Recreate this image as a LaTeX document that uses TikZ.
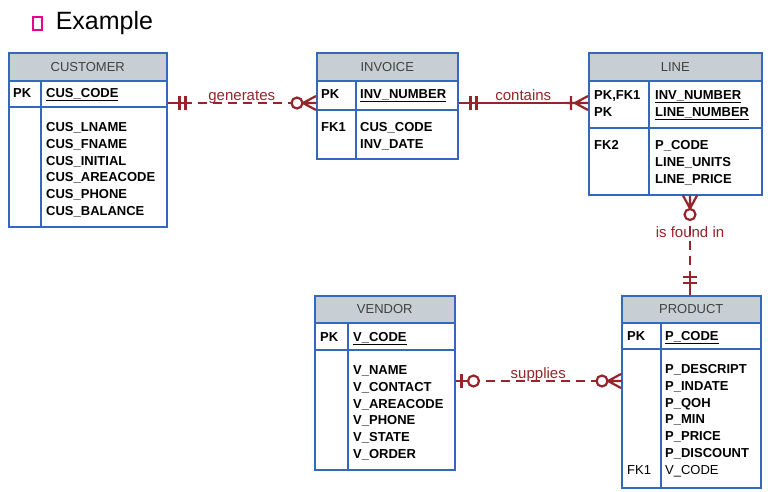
\documentclass[tikz,border=0pt]{standalone}
\usepackage{fontspec}
\setmainfont{Liberation Sans}
\usetikzlibrary{positioning}
\definecolor{entblue}{RGB}{52,104,190}
\definecolor{headgray}{RGB}{200,207,212}
\definecolor{relred}{RGB}{150,36,42}
\tikzset{
  entbox/.style={draw=entblue,line width=1.5pt,inner sep=0pt,anchor=north west},
  enthead/.style={entbox,fill=headgray,text=black!75,font=\fontsize{13}{16}\selectfont},
  entline/.style={draw=entblue,line width=1.5pt},
  fld/.style={anchor=north west,inner sep=0pt,align=left,font=\bfseries\fontsize{13}{16.8}\selectfont},
  rel/.style={draw=relred,line width=2.2pt},
  reldash/.style={dash pattern=on 9pt off 6pt},
  relmark/.style={rel,solid},
  rellabel/.style={text=relred,font=\fontsize{15}{18}\selectfont,inner sep=0pt,anchor=base,yshift=2.5pt},
  one/.pic={\draw[relmark] (0,0) -- (24,0) (12,-7) -- (12,7) (18,-7) -- (18,7);},
  onemany/.pic={\draw[relmark] (0,-7) -- (13,0) -- (0,7) (0,0) -- (22,0) (17,-7) -- (17,7);},
  zeromany/.pic={\draw[relmark] (0,-7) -- (13,0) -- (0,7) (0,0) -- (13,0);
    \draw[relmark,fill=white] (19,0) circle (5.5);},
  zeroone/.pic={\draw[relmark] (0,0) -- (12,0) (6,-7) -- (6,7);
    \draw[relmark,fill=white] (18,0) circle (5.5);}
}
% name, left, top, right, head bottom, key bottom, bottom, divider, title
\newcommand\ertable[9]{%
  \node[entbox,minimum width=#4-#2,minimum height=#7-#3] (#1) at (#2,#3) {};
  \node[enthead,minimum width=#4-#2,minimum height=#5-#3] (#1-head) at (#2,#3) {#9};
  \draw[entline] (#2,#6) -- (#4,#6) (#8,#5) -- (#8,#7);
}

\begin{document}
\begin{tikzpicture}[x=1pt,y=-1pt]
  \useasboundingbox (0,0) rectangle (768,491);
  \node[draw=magenta,line width=1.2pt,minimum width=9pt,minimum height=13pt,inner sep=0pt] (bullet) at (37.5,23.5) {};
  \node[right=13pt of bullet.east,anchor=west,inner sep=0pt,font=\fontsize{25}{30}\selectfont] (title) {Example};

  \ertable{customer}{8}{52}{166}{80}{107}{226}{41}{CUSTOMER}
  \node[fld] (customer-pk) at (13,88.3) {PK};
  \node[fld] (customer-key) at (46,88.3) {\underline{CUS\_CODE}};
  \node[fld] (customer-att) at (46,122.3) {CUS\_LNAME\\CUS\_FNAME\\CUS\_INITIAL\\CUS\_AREACODE\\CUS\_PHONE\\CUS\_BALANCE};

  \ertable{invoice}{316}{52}{457}{80}{110}{158}{356}{INVOICE}
  \node[fld] (invoice-pk) at (321,89.3) {PK};
  \node[fld] (invoice-key) at (360,89.3) {\underline{INV\_NUMBER}};
  \node[fld] (invoice-fk) at (321,122.3) {FK1};
  \node[fld] (invoice-att) at (360,122.3) {CUS\_CODE\\INV\_DATE};

  \ertable{invline}{588}{52}{761}{80}{128}{194}{649}{LINE}
  \node[fld] (invline-pk) at (594,90.3) {PK,FK1\\PK};
  \node[fld] (invline-key) at (655,90.3) {\underline{INV\_NUMBER}\\\underline{LINE\_NUMBER}};
  \node[fld] (invline-fk) at (594,140.3) {FK2};
  \node[fld] (invline-att) at (655,140.3) {P\_CODE\\LINE\_UNITS\\LINE\_PRICE};

  \ertable{vendor}{314}{295}{454}{322}{350}{469}{348}{VENDOR}
  \node[fld] (vendor-pk) at (320,332.3) {PK};
  \node[fld] (vendor-key) at (353,332.3) {\underline{V\_CODE}};
  \node[fld] (vendor-att) at (353,365.3) {V\_NAME\\V\_CONTACT\\V\_AREACODE\\V\_PHONE\\V\_STATE\\V\_ORDER};

  \ertable{product}{621}{295}{760}{322}{349}{487}{661}{PRODUCT}
  \node[fld] (product-pk) at (627,331.3) {PK};
  \node[fld] (product-key) at (665,331.3) {\underline{P\_CODE}};
  \node[fld] (product-att) at (665,364.3) {P\_DESCRIPT\\P\_INDATE\\P\_QOH\\P\_MIN\\P\_PRICE\\P\_DISCOUNT\\{\mdseries V\_CODE}};
  \node[fld,font=\fontsize{13}{16.8}\selectfont] (product-fk) at (627,465.3) {FK1};

  \draw[rel,reldash] ([yshift=-51pt]customer.north east) pic{one}
    -- node[rellabel]{generates} ([yshift=-51pt]invoice.north west) pic[rotate=180]{zeromany};
  \draw[rel] ([yshift=-51pt]invoice.north east) pic{one}
    -- node[rellabel]{contains} ([yshift=-51pt]invline.north west) pic[rotate=180]{onemany};
  \draw[rel,reldash] ([xshift=102pt]invline.south west) pic[rotate=-90]{zeromany}
    -- node[rellabel,pos=0.45]{is found in} ([xshift=69pt]product.north west) pic[rotate=90]{one};
  \draw[rel,reldash] ([yshift=-86pt]vendor.north east) pic{zeroone}
    -- node[rellabel]{supplies} ([yshift=-86pt]product.north west) pic[rotate=180]{zeromany};
\end{tikzpicture}
\end{document}
